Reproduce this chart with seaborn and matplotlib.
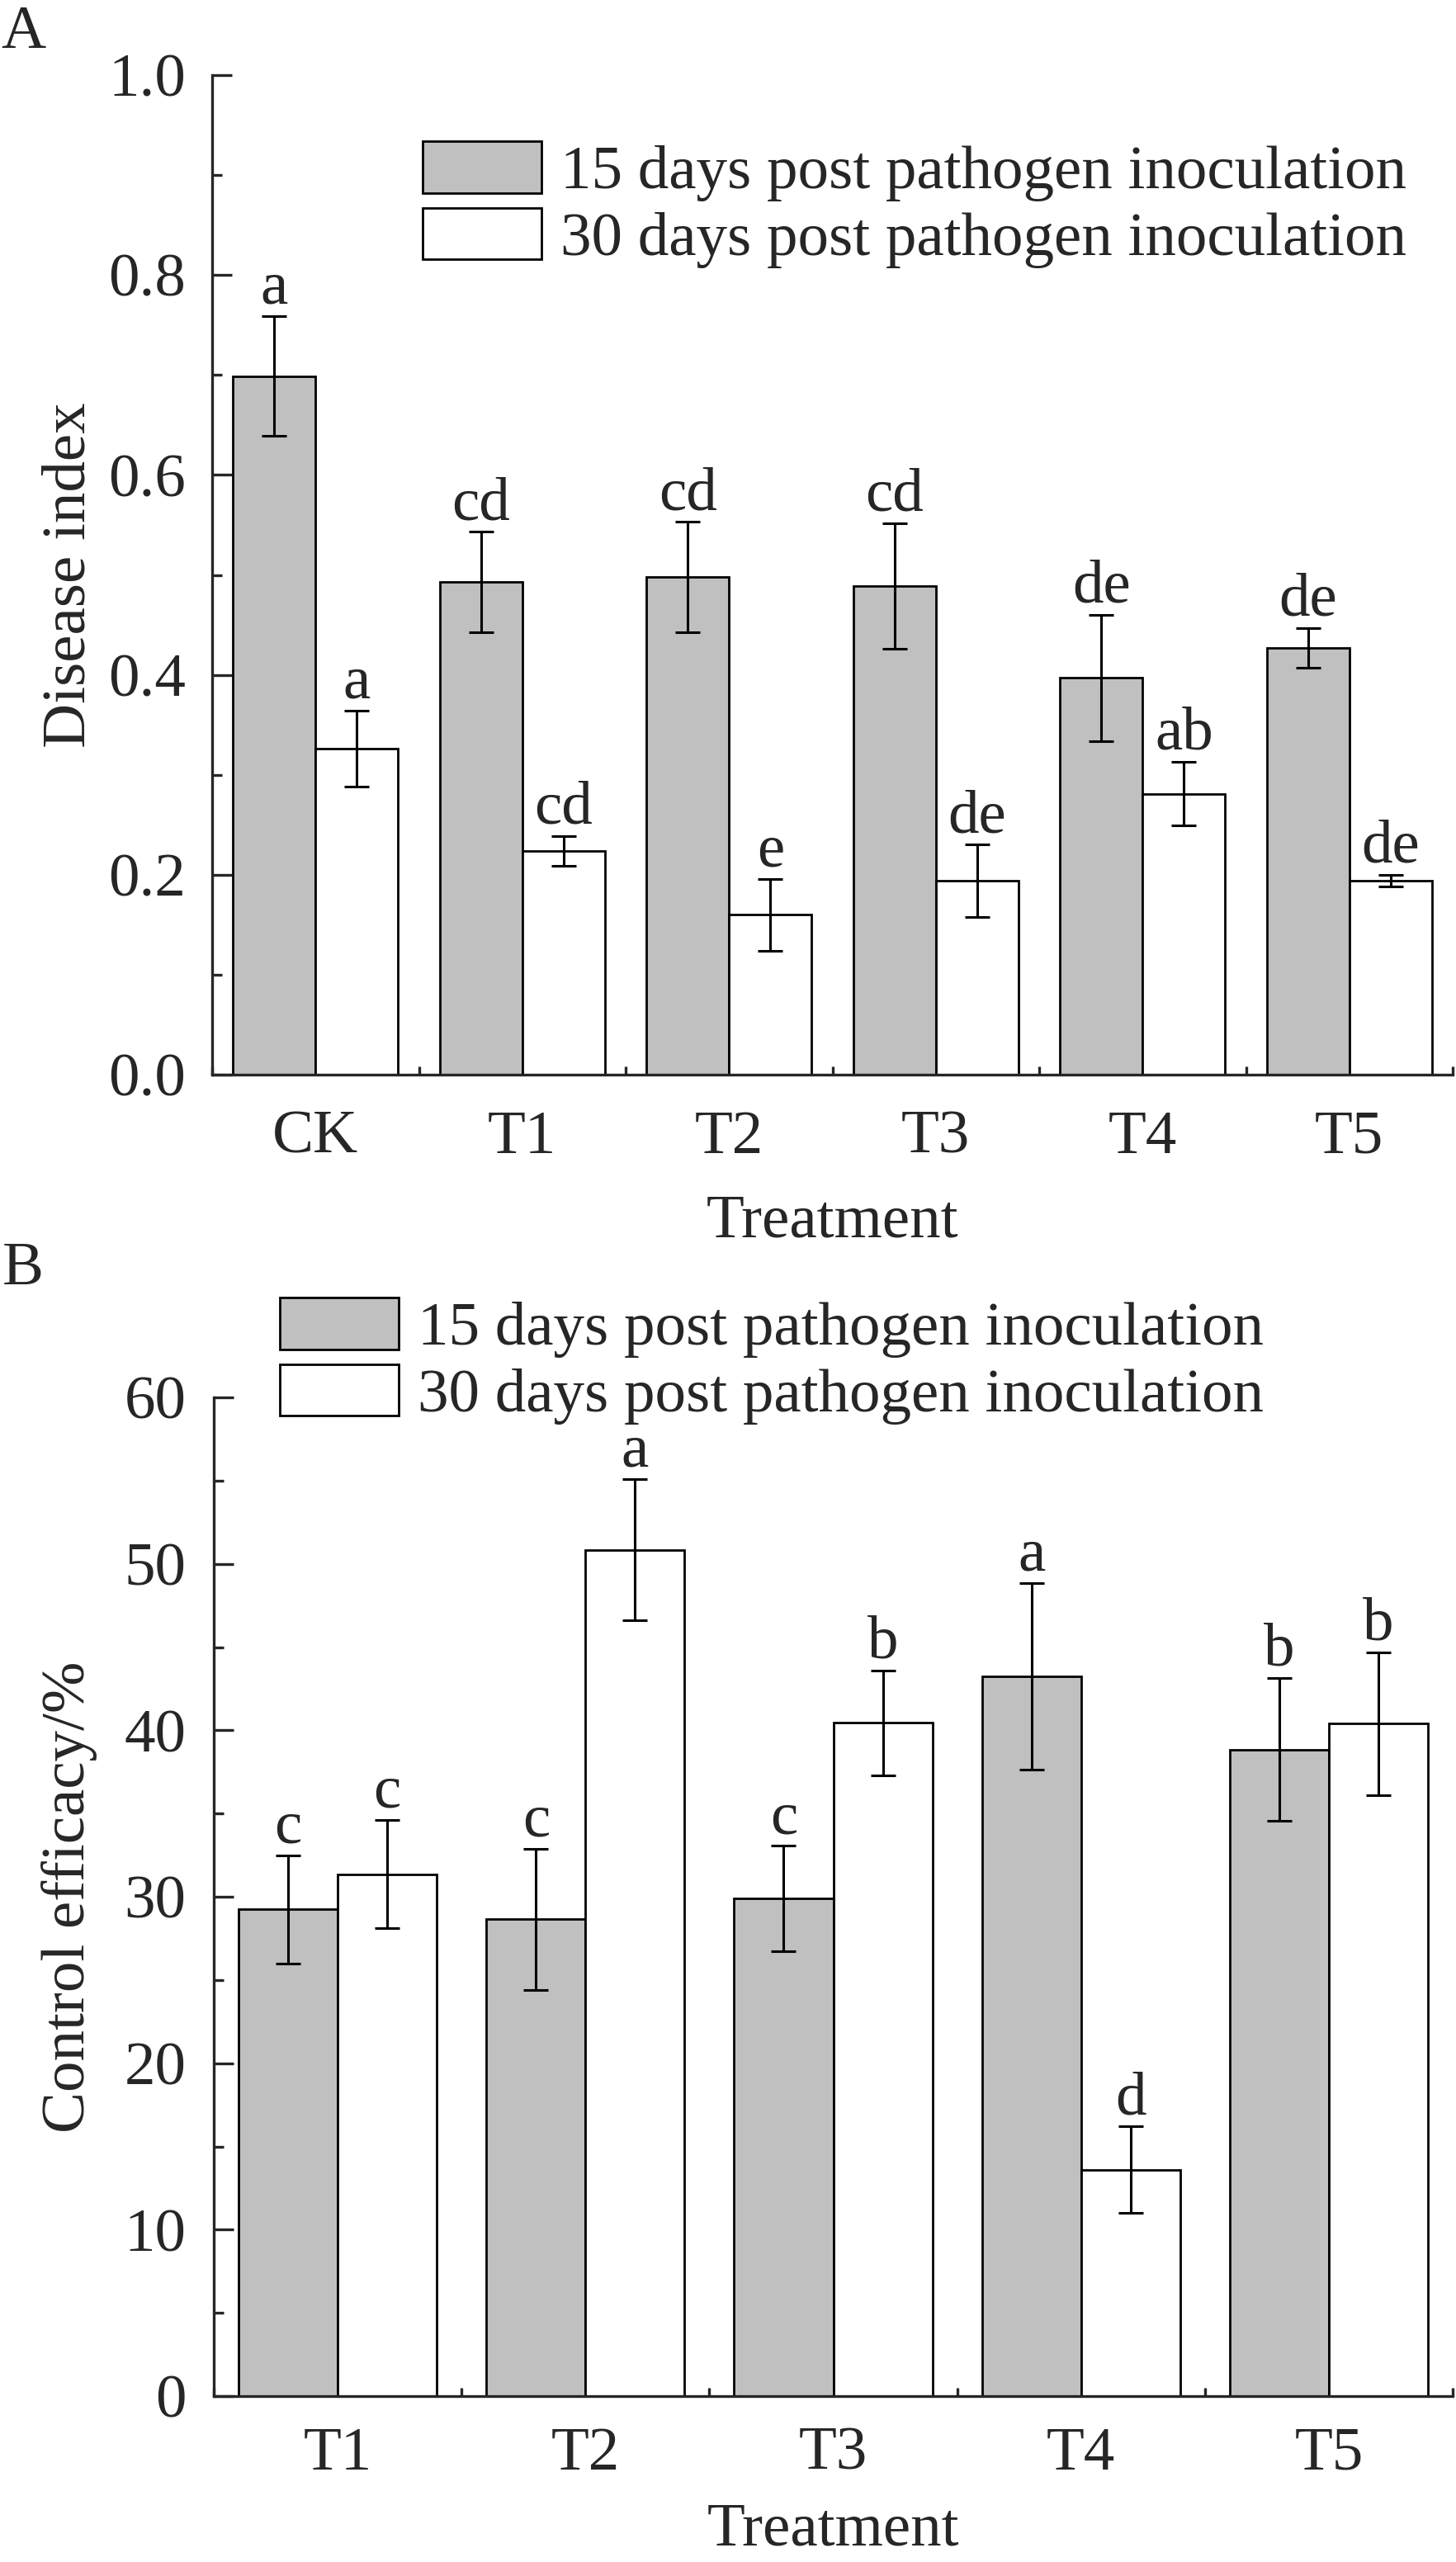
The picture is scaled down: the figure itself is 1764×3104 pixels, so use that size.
import numpy as np
import pandas as pd
import matplotlib
matplotlib.use("Agg")
import matplotlib.pyplot as plt
import seaborn as sns
from matplotlib.ticker import MultipleLocator, FixedLocator

# ---------------- data ----------------
series = ["15 days post pathogen inoculation", "30 days post pathogen inoculation"]

treat_a = ["CK", "T1", "T2", "T3", "T4", "T5"]
di_15 = [0.699, 0.493, 0.498, 0.489, 0.397, 0.427]
di_15_err = [0.060, 0.050, 0.055, 0.063, 0.063, 0.020]
di_30 = [0.326, 0.224, 0.160, 0.194, 0.281, 0.194]
di_30_err = [0.038, 0.015, 0.036, 0.036, 0.032, 0.006]
di_15_let = ["a", "cd", "cd", "cd", "de", "de"]
di_30_let = ["a", "cd", "e", "de", "ab", "de"]

treat_b = ["T1", "T2", "T3", "T4", "T5"]
ce_15 = [29.25, 28.65, 29.9, 43.26, 38.85]
ce_15_err = [3.25, 4.25, 3.15, 5.6, 4.3]
ce_30 = [31.35, 50.85, 40.45, 13.6, 40.4]
ce_30_err = [3.25, 4.25, 3.15, 2.6, 4.3]
ce_15_let = ["c", "c", "c", "a", "b"]
ce_30_let = ["c", "a", "b", "d", "b"]

colors = ["#c0c0c0", "#ffffff"]

# ---------------- style ----------------
sns.set_style("ticks")
FS = 54
plt.rcParams["font.family"] = ["Liberation Serif", "DejaVu Serif"]
plt.rcParams["font.size"] = FS
plt.rcParams["axes.linewidth"] = 2.4

fig = plt.figure(figsize=(17.64, 31.04), dpi=100)
W, H = 1764, 3104


def panel(rect, cats, v15, e15, v30, e30, l15, l30, ylim, major, minor,
          ylabel, leg_anchor, ylab_x, xlab_y, xpad, ypad):
    ax = fig.add_axes(rect)
    df = pd.DataFrame({
        "Treatment": cats * 2,
        "value": list(v15) + list(v30),
        "Series": [series[0]] * len(cats) + [series[1]] * len(cats),
    })
    sns.barplot(data=df, x="Treatment", y="value", hue="Series",
                hue_order=series, order=cats, palette=colors, saturation=1,
                edgecolor="black", linewidth=2.0, width=0.8, errorbar=None,
                ax=ax)
    errs = [e15, e30]
    lets = [l15, l30]
    for ci, cont in enumerate(ax.containers[:2]):
        xs = [p.get_x() + p.get_width() / 2 for p in cont.patches]
        hs = [p.get_height() for p in cont.patches]
        ax.errorbar(xs, hs, yerr=errs[ci], fmt="none", ecolor="black",
                    elinewidth=2.2, capsize=10.5, capthick=2.2, zorder=5)
        for x, h, e, t in zip(xs, hs, errs[ci], lets[ci]):
            ax.annotate(t, (x, h + e), xytext=(0, 11), textcoords="offset points",
                        ha="center", va="baseline", fontsize=FS)
    n = len(cats)
    ax.set_xlim(-0.5, n - 0.5)
    ax.set_ylim(*ylim)
    ax.yaxis.set_major_locator(MultipleLocator(major))
    ax.yaxis.set_minor_locator(MultipleLocator(minor))
    ax.xaxis.set_minor_locator(FixedLocator(np.arange(n + 1) - 0.5))
    ax.tick_params(axis="y", which="major", direction="in", length=17, width=2.4,
                   labelsize=FS, pad=ypad)
    ax.tick_params(axis="y", which="minor", direction="in", length=8.5, width=2.4)
    ax.tick_params(axis="x", which="major", length=0, labelsize=FS, pad=xpad)
    ax.tick_params(axis="x", which="minor", direction="in", length=7, width=2.4,
                   bottom=True)
    for s in ["top", "right"]:
        ax.spines[s].set_visible(False)
    ax.set_ylabel(ylabel, fontsize=FS)
    ax.set_xlabel("Treatment", fontsize=FS)
    ax.yaxis.set_label_coords(ylab_x, 0.5)
    ax.xaxis.set_label_coords(0.5, xlab_y)
    h, l = ax.get_legend_handles_labels()
    if ax.get_legend() is not None:
        ax.get_legend().remove()
    ax.legend(h[:2], l[:2], loc="upper left", bbox_to_anchor=leg_anchor,
              frameon=False, fontsize=FS, handlelength=1.92, handleheight=0.91,
              handletextpad=0.3, labelspacing=0.1, borderpad=0, borderaxespad=0)
    return ax


# panel A: axes from x 257..1760, y 91..1302 (pixels)
rectA = [257 / W, 1 - 1302 / H, (1760 - 257) / W, (1302 - 91) / H]
axA = panel(rectA, treat_a, di_15, di_15_err, di_30, di_30_err, di_15_let, di_30_let,
            (0, 1.0), 0.2, 0.1, "Disease index", (0.1697, 0.934), -0.092, -0.12,
            31, 23)

# panel B: axes from x 259..1760, y 1693..2903
rectB = [259 / W, 1 - 2903 / H, (1760 - 259) / W, (2903 - 1693) / H]
axB = panel(rectB, treat_b, ce_15, ce_15_err, ce_30, ce_30_err, ce_15_let, ce_30_let,
            (0, 60), 10, 5, "Control efficacy/%", (0.0533, 1.1), -0.094, -0.107,
            27, 24)

fig.text(28 / W, 1 - 40 / H, "A", fontsize=FS, ha="center", va="center")
fig.text(28 / W, 1 - 1538 / H, "B", fontsize=FS, ha="center", va="center")

fig.savefig("out.png", dpi=100)
